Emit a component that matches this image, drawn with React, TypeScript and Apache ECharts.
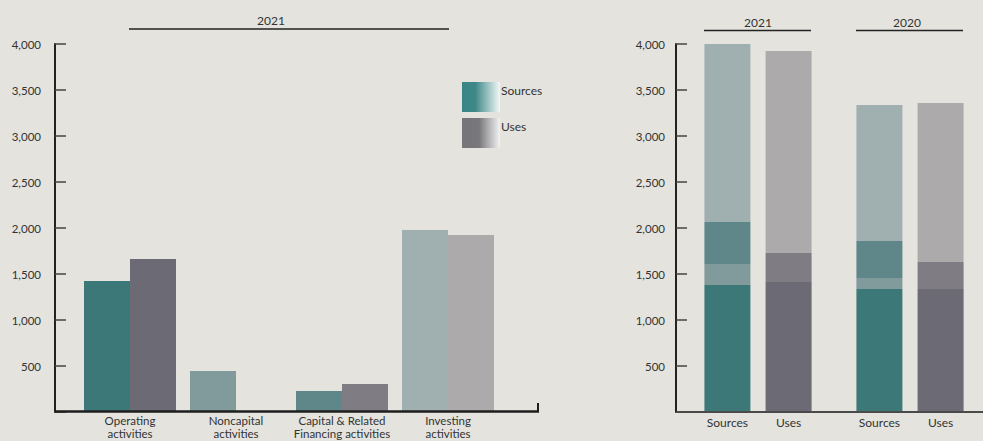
import React, { useEffect, useRef } from "react";
import * as echarts from "echarts";

// ---- Left chart (2021 by activity) ----
const leftCategories = [
  "Operating\nactivities",
  "Noncapital\nactivities",
  "Capital & Related\nFinancing activities",
  "Investing\nactivities",
];
const leftSources = [1424, 446, 228, 1978];
const leftUses = [1663, 0, 304, 1924];
const sourceColors = ["#3d7879", "#819a9b", "#5f878a", "#a0b0b0"];
const useColors = ["#6b6a75", "#6b6a75", "#807c84", "#adaaab"];

// ---- Right chart (stacked totals by year) ----
const rightYears = ["2021", "2020"];
const rightBarLabels = ["Sources", "Uses"];
const srcOperating = [1380, 1337];
const srcNoncapital = [229, 119];
const srcCapital = [456, 403];
const srcInvesting = [1955, 1478];
const useOperating = [1413, 1337];
const useCapital = [315, 293];
const useInvesting = [2196, 1728];

const yTicks = { min: 0, max: 4000, interval: 500 };
const legendNames = ["Sources", "Uses"];

const FONT = "Lato";
const BG = "#e4e3de";

export default function App() {
  const ref = useRef<HTMLDivElement>(null);
  useEffect(() => {
    if (!ref.current) return;
    document.body.style.margin = "0";
    document.body.style.background = BG;
    const chart = echarts.init(ref.current, null, { renderer: "svg" });

    const yFmt = (v: number) => (v === 0 ? "" : v.toLocaleString("en-US"));
    const yAxisBase = (gridIndex: number, offset: number, margin: number) => ({
      type: "value",
      gridIndex,
      min: yTicks.min,
      max: yTicks.max,
      interval: yTicks.interval,
      offset,
      axisLine: { show: true, lineStyle: { color: "#222", width: 2 } },
      axisTick: { show: true, inside: true, length: 11, lineStyle: { color: "#444", width: 1.5 } },
      splitLine: { show: false },
      axisLabel: { formatter: yFmt, color: "#333", fontSize: 11.5, fontFamily: FONT, margin },
    });

    const srcGrad = new echarts.graphic.LinearGradient(0, 0, 1, 0, [
      { offset: 0, color: "#398585" },
      { offset: 0.35, color: "#3f8888" },
      { offset: 1, color: "#f3f8f7" },
    ]);
    const useGrad = new echarts.graphic.LinearGradient(0, 0, 1, 0, [
      { offset: 0, color: "#76767a" },
      { offset: 0.45, color: "#78787c" },
      { offset: 1, color: "#f3f3f3" },
    ]);

    const rightSeries = (
      name: string,
      stack: string,
      data: number[],
      color: string,
      bottomLabel?: string
    ) => ({
      name,
      type: "bar",
      xAxisIndex: 1,
      yAxisIndex: 1,
      stack,
      barWidth: 46,
      barGap: "33%",
      data,
      itemStyle: { color },
      label: bottomLabel
        ? {
            show: true,
            position: "bottom",
            distance: 4,
            formatter: () => bottomLabel,
            color: "#333",
            fontSize: 12,
            fontFamily: FONT,
          }
        : { show: false },
    });

    chart.setOption({
      animation: false,
      backgroundColor: BG,
      textStyle: { fontFamily: FONT },
      grid: [
        { left: 77, top: 44, width: 424, height: 368, outerBoundsMode: "none", containLabel: false },
        { left: 682, top: 44, width: 304, height: 368, outerBoundsMode: "none", containLabel: false },
      ],
      xAxis: [
        {
          type: "category",
          gridIndex: 0,
          data: leftCategories,
          axisLine: { show: false },
          axisTick: { show: false },
          axisLabel: { color: "#333", fontSize: 11.5, fontFamily: FONT, margin: 2, lineHeight: 13, interval: 0 },
        },
        {
          type: "category",
          gridIndex: 1,
          data: rightYears,
          axisLine: { show: false },
          axisTick: { show: false },
          axisLabel: { show: false },
        },
      ],
      yAxis: [yAxisBase(0, 22, 14), yAxisBase(1, 6, 11)],
      legend: {
        data: legendNames,
        orient: "vertical",
        left: 462,
        top: 82,
        padding: 0,
        itemWidth: 38,
        itemHeight: 30,
        itemGap: 6,
        icon: "rect",
        selectedMode: false,
        formatter: "{t|{name}}",
        textStyle: {
          color: "#333",
          fontSize: 12,
          fontFamily: FONT,
          rich: { t: { color: "#333", fontSize: 12, fontFamily: FONT, padding: [0, 0, 14, -4] } },
        },
      },
      series: [
        {
          name: "Sources",
          type: "bar",
          xAxisIndex: 0,
          yAxisIndex: 0,
          barWidth: 46,
          barGap: "0%",
          itemStyle: { color: srcGrad },
          data: leftSources.map((v, i) => ({ value: v, itemStyle: { color: sourceColors[i] } })),
        },
        {
          name: "Uses",
          type: "bar",
          xAxisIndex: 0,
          yAxisIndex: 0,
          barWidth: 46,
          barGap: "0%",
          itemStyle: { color: useGrad },
          data: leftUses.map((v, i) => ({ value: v, itemStyle: { color: useColors[i] } })),
        },
        rightSeries("Sources: Operating", "src", srcOperating, sourceColors[0], rightBarLabels[0]),
        rightSeries("Uses: Operating", "use", useOperating, useColors[0], rightBarLabels[1]),
        rightSeries("Sources: Noncapital", "src", srcNoncapital, sourceColors[1]),
        rightSeries("Sources: Capital", "src", srcCapital, sourceColors[2]),
        rightSeries("Uses: Capital", "use", useCapital, useColors[2]),
        rightSeries("Sources: Investing", "src", srcInvesting, sourceColors[3]),
        rightSeries("Uses: Investing", "use", useInvesting, useColors[3]),
      ],
      graphic: [
        // left x-axis line with end tick
        { type: "line", shape: { x1: 55, y1: 411.5, x2: 539, y2: 411.5 }, style: { stroke: "#1e1e1e", lineWidth: 2.5 }, z: 10 },
        { type: "line", shape: { x1: 538, y1: 403, x2: 538, y2: 412 }, style: { stroke: "#1e1e1e", lineWidth: 2 }, z: 10 },
        // right x-axis line
        { type: "line", shape: { x1: 676, y1: 412, x2: 983, y2: 412 }, style: { stroke: "#4a4a4a", lineWidth: 2 }, z: 10 },
        // headers
        { type: "text", x: 271, y: 20, style: { text: "2021", align: "center", verticalAlign: "middle", fill: "#333", fontSize: 12, fontFamily: FONT } },
        { type: "line", shape: { x1: 129, y1: 29, x2: 449, y2: 29 }, style: { stroke: "#222", lineWidth: 1.5 } },
        { type: "text", x: 758, y: 22, style: { text: "2021", align: "center", verticalAlign: "middle", fill: "#333", fontSize: 12, fontFamily: FONT } },
        { type: "line", shape: { x1: 704, y1: 30.5, x2: 811, y2: 30.5 }, style: { stroke: "#222", lineWidth: 1.5 } },
        { type: "text", x: 907, y: 22, style: { text: "2020", align: "center", verticalAlign: "middle", fill: "#333", fontSize: 12, fontFamily: FONT } },
        { type: "line", shape: { x1: 856, y1: 30.5, x2: 963, y2: 30.5 }, style: { stroke: "#222", lineWidth: 1.5 } },
      ],
    });
    return () => chart.dispose();
  }, []);
  return (
    <div
      ref={ref}
      style={{ position: "fixed", left: 0, top: 0, width: 983, height: 441, background: BG }}
    />
  );
}
